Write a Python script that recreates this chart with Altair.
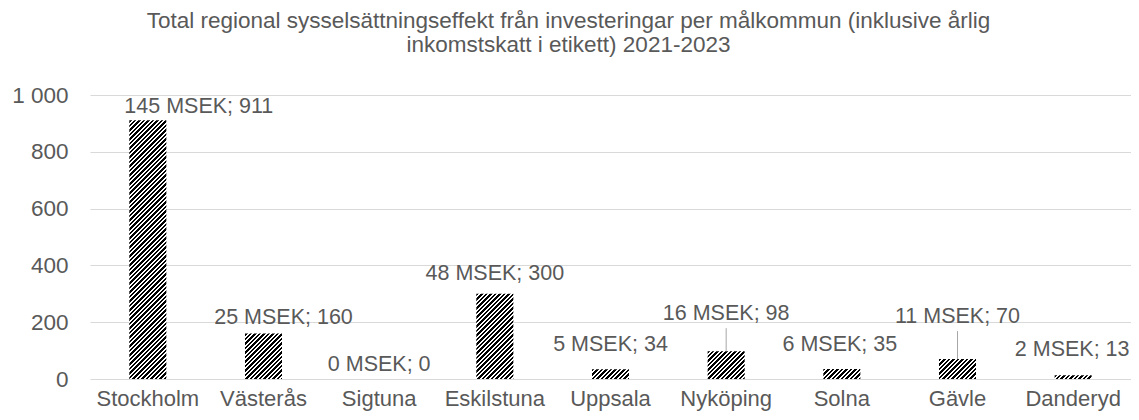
import altair as alt
import pandas as pd

# ---------------- data ----------------
categories = ["Stockholm", "Västerås", "Sigtuna", "Eskilstuna", "Uppsala",
              "Nyköping", "Solna", "Gävle", "Danderyd"]
msek = [145, 25, 0, 48, 5, 16, 6, 11, 2]
jobs = [911, 160, 0, 300, 34, 98, 35, 70, 13]
y_ticks = [0, 200, 400, 600, 800, 1000]
title_lines = [
    "Total regional sysselsättningseffekt från investeringar per målkommun (inklusive årlig",
    "inkomstskatt i etikett) 2021-2023",
]

df = pd.DataFrame({"cat": categories, "msek": msek, "jobs": jobs})

# ---------------- styles ----------------
FONT = "Liberation Sans"
TEXT = "#595959"
GRID = "#d9d9d9"
LEADER = "#a6a6a6"
W, H = 1041, 284
P_IN, P_OUT = 0.68, 0.34
Y_MAX = 1000

# label offsets (dx, dy) relative to bar top centre
label_off = {
    "Stockholm": (51, -7), "Västerås": (20, -10), "Sigtuna": (0, -8),
    "Eskilstuna": (0, -14), "Uppsala": (0, -18), "Nyköping": (0, -31),
    "Solna": (-2, -18), "Gävle": (0, -36), "Danderyd": (-1, -19),
}
# leader lines (length in px above bar top)
leader_len = {"Nyköping": 23, "Gävle": 28}


def hatch(w, h, period=4.5, black=0.55):
    total = w + h
    q = period / total
    stops = []
    k = 0
    while k * q < 1:
        o0 = round(k * q, 6)
        o1 = round(min((k + black) * q, 1), 6)
        o2 = round(min((k + 1) * q, 1), 6)
        stops += [
            {"offset": o0, "color": "#000000"},
            {"offset": o1, "color": "#000000"},
            {"offset": o1, "color": "#ffffff"},
            {"offset": o2, "color": "#ffffff"},
        ]
        k += 1
    s = total / (w * w + h * h)
    return {"gradient": "linear", "x1": 0, "y1": 0,
            "x2": round(w * s, 6), "y2": round(h * s, 6), "stops": stops}


step = W / len(categories)
bar_w = step * (1 - P_IN)

x_enc = alt.X("cat:N", sort=categories,
              scale=alt.Scale(paddingInner=P_IN, paddingOuter=P_OUT),
              axis=alt.Axis(title=None, labelAngle=0, labelFontSize=22,
                            labelColor=TEXT, labelFont=FONT, ticks=False,
                            domain=False, labelPadding=9, labelOverlap=False,
                            grid=False))
y_enc = alt.Y("jobs:Q", scale=alt.Scale(domain=[0, Y_MAX], nice=False),
              axis=alt.Axis(title=None, values=y_ticks,
                            labelExpr="replace(format(datum.value, ','), ',', ' ')",
                            labelFontSize=22.5, labelColor=TEXT, labelFont=FONT,
                            ticks=False, domain=False, gridColor=GRID,
                            gridWidth=1, labelPadding=22))

base = alt.Chart(df).transform_calculate(
    label="datum.msek + ' MSEK; ' + datum.jobs"
)

layers = []
for c, v in zip(categories, jobs):
    h = v / Y_MAX * H
    layers.append(
        base.transform_filter(alt.datum.cat == c)
        .mark_bar(fill=hatch(bar_w, h))
        .encode(x=x_enc, y=y_enc)
    )

for c in categories:
    if c in leader_len:
        layers.append(
            base.transform_filter(alt.datum.cat == c)
            .mark_rule(color=LEADER, strokeWidth=1, y2Offset=-leader_len[c])
            .encode(x=x_enc, y=y_enc, y2="jobs:Q")
        )

for c in categories:
    dx, dy = label_off[c]
    layers.append(
        base.transform_filter(alt.datum.cat == c)
        .mark_text(align="center", baseline="alphabetic", dx=dx, dy=dy,
                   fontSize=21.5, font=FONT, color=TEXT)
        .encode(x=x_enc, y=y_enc, text="label:N")
    )

chart = alt.layer(*layers).properties(
    width=W, height=H,
    title=alt.TitleParams(text=title_lines, fontSize=22.5, font=FONT,
                          fontWeight="normal", color=TEXT, lineHeight=23.5,
                          anchor="middle", baseline="bottom", offset=5,
                          dx=-42),
    autosize=alt.AutoSizeParams(type="none"),
    padding={"left": 82, "top": 87, "right": 0, "bottom": 33},
).configure_view(stroke=None)

chart.save("out.html", embed_options={"renderer": "svg", "actions": False})
